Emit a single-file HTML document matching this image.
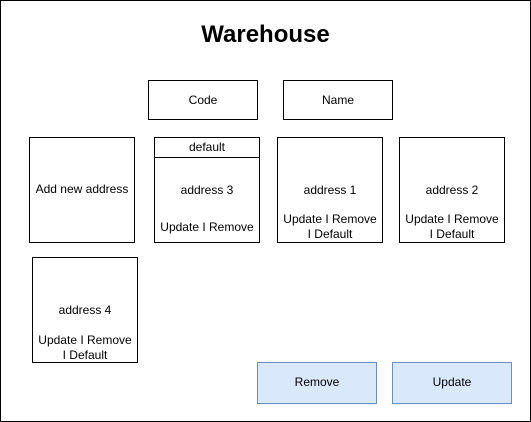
<!DOCTYPE html>
<html><head><style>
body{margin:0;width:531px;height:422px;background:#fff;font-family:"Liberation Sans",Arial,sans-serif;font-size:12px;color:#000;position:relative;overflow:hidden}
.b{position:absolute;box-sizing:border-box;border:1px solid #000;background:#fff}
.t{position:absolute;left:0;right:0;text-align:center;line-height:15px}
</style></head><body>
<div class="b" style="left:0;top:0;width:531px;height:422px"></div>
<div style="position:absolute;left:0;width:531px;top:20px;text-align:center;font-weight:bold;font-size:24px;line-height:30px">Warehouse</div>
<div class="b" style="left:148px;top:80px;width:110px;height:40px"><div class="t" style="top:12px">Code</div></div>
<div class="b" style="left:283px;top:80px;width:110px;height:40px"><div class="t" style="top:12px">Name</div></div>
<div class="b" style="left:29px;top:137px;width:106px;height:106px"><div class="t" style="top:44px">Add new address</div></div>
<div class="b" style="left:154px;top:137px;width:106px;height:106px"><div style="position:absolute;left:0;right:0;top:0;height:19px;border-bottom:1px solid #000;text-align:center;line-height:19px">default</div><div class="t" style="top:45px">address 3</div><div class="t" style="top:82px">Update I Remove</div></div>
<div class="b" style="left:277px;top:137px;width:106px;height:106px"><div class="t" style="top:45px">address 1</div><div class="t" style="top:74px">Update I Remove<br>I Default</div></div>
<div class="b" style="left:399px;top:137px;width:106px;height:106px"><div class="t" style="top:45px">address 2</div><div class="t" style="top:74px">Update I Remove<br>I Default</div></div>
<div class="b" style="left:32px;top:257px;width:106px;height:106px"><div class="t" style="top:45px">address 4</div><div class="t" style="top:75px">Update I Remove<br>I Default</div></div>
<div class="b" style="left:257px;top:362px;width:120px;height:42px;background:#dae8fc;border-color:#6c8ebf"><div class="t" style="top:12px">Remove</div></div>
<div class="b" style="left:392px;top:362px;width:120px;height:42px;background:#dae8fc;border-color:#6c8ebf"><div class="t" style="top:12px">Update</div></div>
</body></html>
